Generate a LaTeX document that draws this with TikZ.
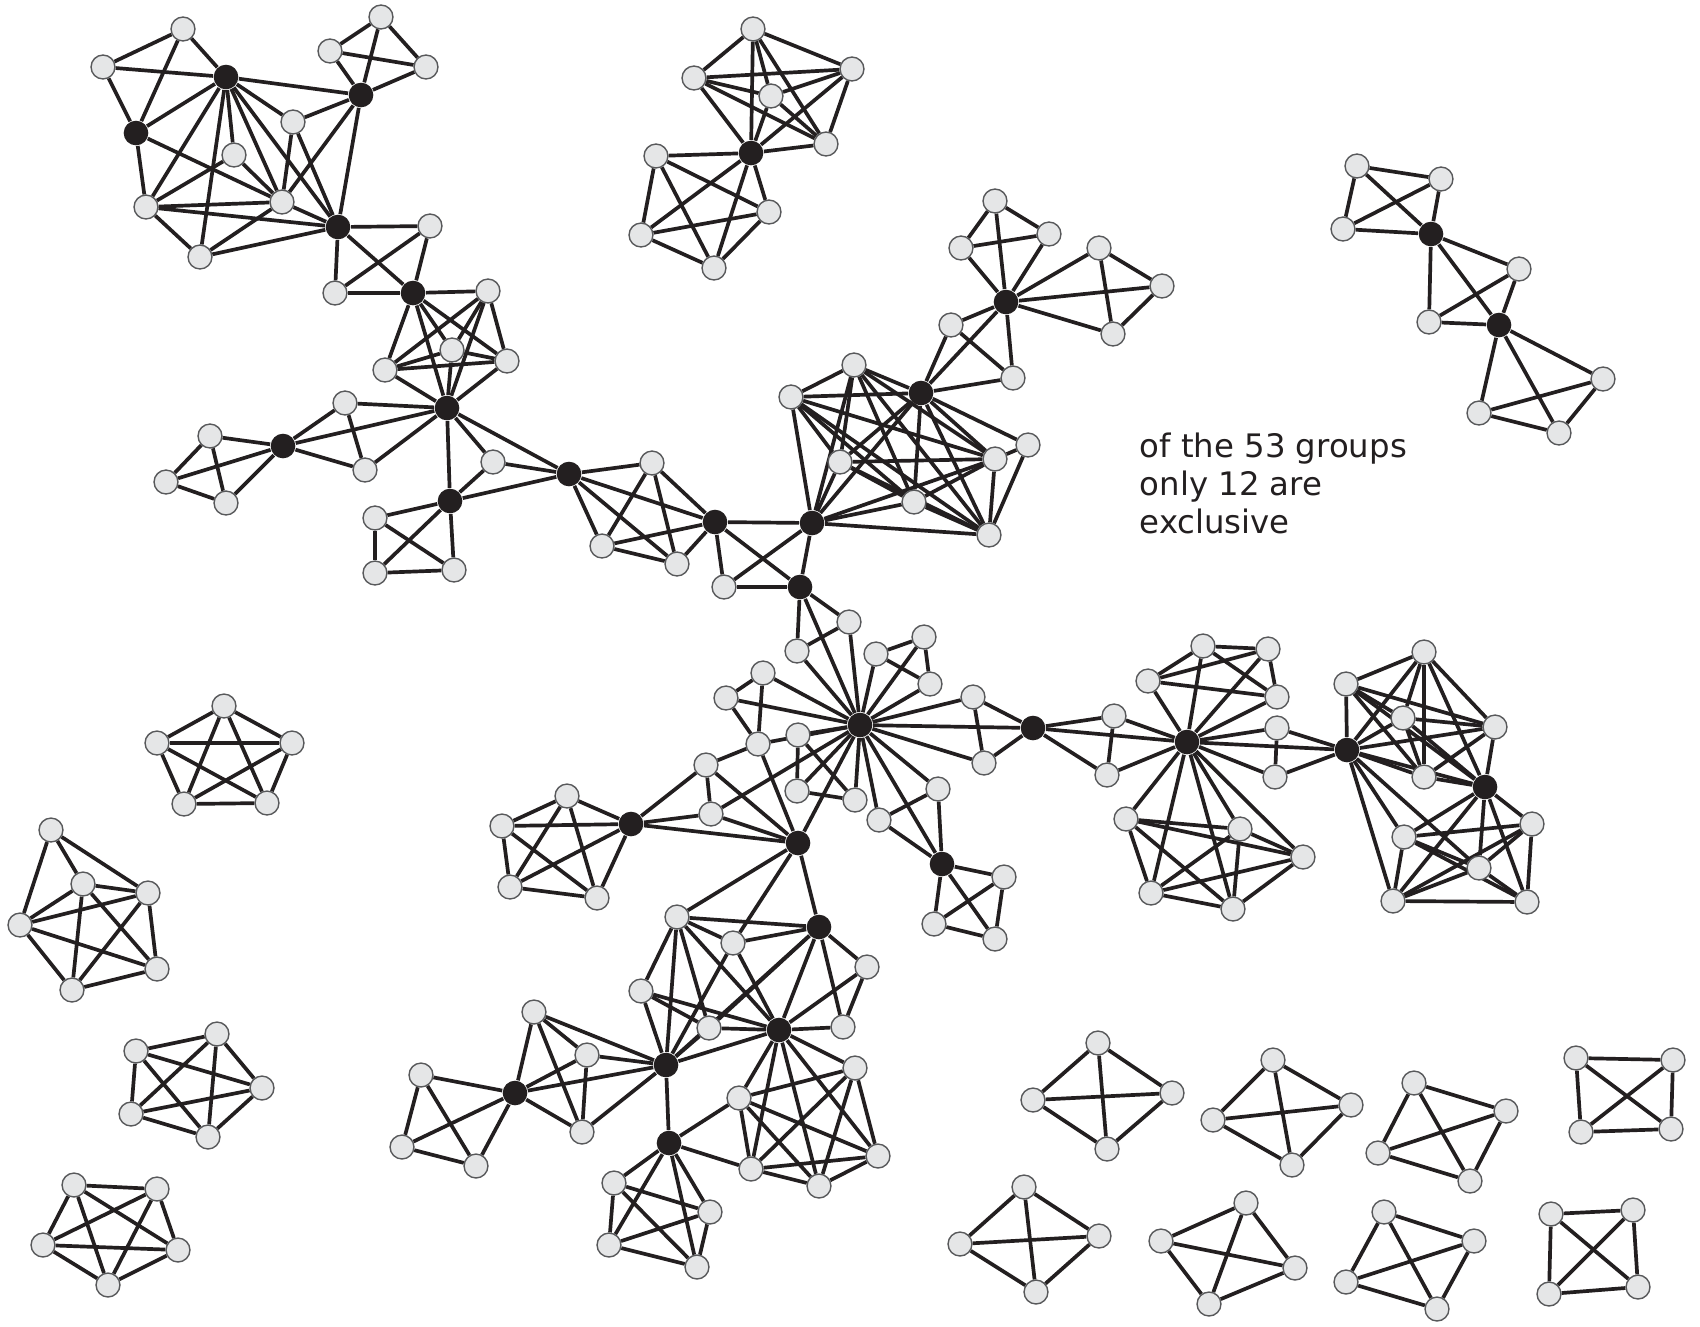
\documentclass[tikz,border=0pt]{standalone}
\usepackage{fontspec}
\newfontfamily\labelfont{DejaVu Sans}
\definecolor{ink}{HTML}{231F20}
\definecolor{nodegray}{HTML}{E5E6E7}
\definecolor{rimgray}{HTML}{58595B}
\pgfdeclarelayer{bg}
\pgfsetlayers{bg,main}
\tikzset{
  gn/.style={circle, draw=rimgray, fill=nodegray, line width=0.4pt, minimum size=6.8pt, inner sep=0pt},
  bn/.style={circle, fill=ink, minimum size=7pt, inner sep=0pt},
  edgeln/.style={draw=ink, line width=1.05pt},
  txt/.style={font=\labelfont\fontsize{9.2pt}{10.8pt}\selectfont, text=ink, inner sep=0pt}
}
\newcommand{\kclique}[1]{%
  \foreach \u [count=\i] in {#1}{%
    \foreach \v [count=\j] in {#1}{%
      \ifnum\i<\j \draw[edgeln] (\u)--(\v);\fi}}}
\newcommand{\links}[1]{\foreach \u/\v in {#1}{\draw[edgeln] (\u)--(\v);}}
\begin{document}
\begin{tikzpicture}[x=0.01cm, y=-0.01cm]
\useasboundingbox (0,0) rectangle (1700,1326);
% ---------- top-left chain ----------
\node[gn] (A1) at (103,67) {};
\node[gn] (A2) at (183,29) {};
\node[bn] (H1) at (226,77) {};
\node[bn] (H2) at (136,133) {};
\node[gn] (A3) at (293,122) {};
\node[gn] (A4) at (234,155) {};
\node[gn] (A5) at (146,207) {};
\node[gn] (A6) at (282,202) {};
\node[gn] (A7) at (200,257) {};
\node[bn] (H3) at (338,227) {};
\node[bn] (H4) at (361,95) {};
\node[gn] (B1) at (330,51) {};
\node[gn] (B2) at (381,17) {};
\node[gn] (B3) at (426,67) {};
\node[gn] (C1) at (430,226) {};
\node[gn] (C2) at (335,293) {};
\node[bn] (H5) at (413,293) {};
\node[gn] (C3) at (385,370) {};
\node[gn] (G1) at (488,291) {};
\node[gn] (G2) at (452,350) {};
\node[gn] (G3) at (507,361) {};
\node[bn] (H7) at (447,408) {};
\node[gn] (D1) at (345,403) {};
\node[bn] (H6) at (283,446) {};
\node[gn] (D2) at (210,436) {};
\node[gn] (D3) at (166,482) {};
\node[gn] (D4) at (226,503) {};
\node[gn] (D5) at (365,470) {};
\node[gn] (G4) at (493,462) {};
\node[bn] (H8) at (450,501) {};
\node[gn] (L1) at (375,518) {};
\node[gn] (L2) at (375,573) {};
\node[gn] (L3) at (454,570) {};
\node[bn] (H9) at (569,474) {};
\node[gn] (M1) at (652,463) {};
\node[gn] (M2) at (602,546) {};
\node[gn] (M3) at (677,564) {};
\node[bn] (H10) at (715,522) {};
\node[gn] (M4) at (724,587) {};
\node[bn] (H11) at (812,523) {};
\node[bn] (H12) at (800,587) {};
\node[gn] (N1) at (849,622) {};
\node[gn] (N2) at (797,651) {};
\node[bn] (H15) at (860,725) {};
% ---------- top centre ----------
\node[gn] (E1) at (753,29) {};
\node[gn] (E2) at (694,78) {};
\node[gn] (E3) at (852,69) {};
\node[gn] (E4) at (771,96) {};
\node[gn] (E5) at (826,144) {};
\node[bn] (HE) at (751,153) {};
\node[gn] (F1) at (656,156) {};
\node[gn] (F2) at (769,212) {};
\node[gn] (F3) at (641,235) {};
\node[gn] (F4) at (714,268) {};
% ---------- upper right branch ----------
\node[gn] (I1) at (995,201) {};
\node[gn] (I2) at (961,248) {};
\node[gn] (I3) at (1049,234) {};
\node[bn] (HI) at (1006,302) {};
\node[gn] (I4) at (1099,248) {};
\node[gn] (I5) at (1162,286) {};
\node[gn] (I6) at (1113,334) {};
\node[gn] (I7) at (951,325) {};
\node[gn] (I8) at (1013,378) {};
\node[bn] (HJ) at (921,393) {};
\node[gn] (T1) at (791,397) {};
\node[gn] (J1) at (854,365) {};
\node[gn] (T2) at (840,462) {};
\node[gn] (T3) at (914,502) {};
\node[gn] (J3) at (995,459) {};
\node[gn] (J2) at (1028,445) {};
\node[gn] (T4) at (989,535) {};
% ---------- far top right ----------
\node[gn] (K1) at (1357,166) {};
\node[gn] (K2) at (1441,179) {};
\node[gn] (K3) at (1343,229) {};
\node[bn] (HK1) at (1431,234) {};
\node[gn] (K4) at (1519,269) {};
\node[gn] (K5) at (1429,322) {};
\node[bn] (HK2) at (1499,325) {};
\node[gn] (K6) at (1603,379) {};
\node[gn] (K7) at (1479,413) {};
\node[gn] (K8) at (1559,433) {};
% ---------- middle right ----------
\node[gn] (W1) at (876,654) {};
\node[gn] (W2) at (924,637) {};
\node[gn] (W3) at (930,684) {};
\node[gn] (X1) at (973,697) {};
\node[gn] (X2) at (984,763) {};
\node[bn] (H16) at (1033,728) {};
\node[gn] (Y1) at (1114,716) {};
\node[gn] (Y2) at (1107,775) {};
\node[bn] (H17) at (1187,742) {};
\node[gn] (AA1) at (1203,646) {};
\node[gn] (AA2) at (1268,649) {};
\node[gn] (AA3) at (1148,681) {};
\node[gn] (AA4) at (1277,697) {};
\node[gn] (BB1) at (1277,728) {};
\node[gn] (BB2) at (1275,777) {};
\node[bn] (H19) at (1347,750) {};
\node[gn] (DD1) at (1346,684) {};
\node[gn] (DD2) at (1424,652) {};
\node[gn] (DD3) at (1403,718) {};
\node[gn] (DD4) at (1495,727) {};
\node[gn] (DD5) at (1424,777) {};
\node[bn] (H20) at (1485,787) {};
\node[gn] (EE1) at (1404,837) {};
\node[gn] (EE2) at (1532,824) {};
\node[gn] (EE3) at (1479,868) {};
\node[gn] (EE4) at (1393,901) {};
\node[gn] (EE5) at (1527,902) {};
\node[gn] (CC1) at (1126,819) {};
\node[gn] (CC2) at (1240,829) {};
\node[gn] (CC5) at (1303,857) {};
\node[gn] (CC3) at (1151,893) {};
\node[gn] (CC4) at (1233,909) {};
% ---------- centre ----------
\node[gn] (O1) at (763,673) {};
\node[gn] (O2) at (726,698) {};
\node[gn] (O3) at (758,744) {};
\node[gn] (O4) at (798,735) {};
\node[gn] (O5) at (797,791) {};
\node[gn] (O6) at (855,800) {};
\node[gn] (R1) at (706,765) {};
\node[gn] (R2) at (711,814) {};
\node[bn] (H13) at (631,824) {};
\node[bn] (H14) at (798,843) {};
\node[gn] (S1) at (567,796) {};
\node[gn] (S2) at (502,826) {};
\node[gn] (S3) at (510,887) {};
\node[gn] (S4) at (597,898) {};
\node[gn] (Z2) at (879,820) {};
\node[gn] (Z3) at (938,789) {};
\node[bn] (H18) at (942,864) {};
\node[gn] (Z4) at (1004,877) {};
\node[gn] (FF1) at (934,924) {};
\node[gn] (FF2) at (995,939) {};
% ---------- lower centre ----------
\node[gn] (U1) at (677,917) {};
\node[bn] (H21) at (819,927) {};
\node[gn] (U2) at (733,943) {};
\node[gn] (U3) at (867,967) {};
\node[gn] (U4) at (641,991) {};
\node[gn] (U5) at (709,1028) {};
\node[bn] (H22) at (779,1030) {};
\node[gn] (U6) at (843,1027) {};
\node[gn] (V1) at (534,1012) {};
\node[gn] (V2) at (587,1055) {};
\node[bn] (H23) at (666,1065) {};
\node[gn] (V3) at (421,1075) {};
\node[bn] (H24) at (515,1093) {};
\node[gn] (V4) at (402,1147) {};
\node[gn] (V5) at (476,1166) {};
\node[gn] (V6) at (582,1132) {};
\node[gn] (W1b) at (739,1098) {};
\node[gn] (W2b) at (855,1068) {};
\node[gn] (W3b) at (878,1156) {};
\node[gn] (W4b) at (751,1169) {};
\node[gn] (W5b) at (819,1186) {};
\node[bn] (H25) at (669,1143) {};
\node[gn] (X1b) at (614,1183) {};
\node[gn] (X2b) at (710,1212) {};
\node[gn] (X3b) at (609,1245) {};
\node[gn] (X4b) at (697,1267) {};
% ---------- separate groups, left ----------
\node[gn] (P1) at (224,706) {};
\node[gn] (P2) at (157,743) {};
\node[gn] (P3) at (292,743) {};
\node[gn] (P4) at (184,804) {};
\node[gn] (P5) at (267,803) {};
\node[gn] (Ra) at (51,830) {};
\node[gn] (Rb) at (83,884) {};
\node[gn] (Rc) at (148,893) {};
\node[gn] (Rd) at (20,925) {};
\node[gn] (Re) at (157,969) {};
\node[gn] (Rf) at (72,990) {};
\node[gn] (Sa) at (136,1051) {};
\node[gn] (Sb) at (217,1034) {};
\node[gn] (Sc) at (262,1088) {};
\node[gn] (Sd) at (131,1114) {};
\node[gn] (Se) at (208,1137) {};
\node[gn] (Ta) at (74,1185) {};
\node[gn] (Tb) at (157,1189) {};
\node[gn] (Tc) at (43,1245) {};
\node[gn] (Td) at (178,1250) {};
\node[gn] (Te) at (108,1285) {};
% ---------- separate groups, bottom right ----------
\node[gn] (Q1a) at (1098,1043) {};
\node[gn] (Q1b) at (1033,1100) {};
\node[gn] (Q1c) at (1172,1093) {};
\node[gn] (Q1d) at (1107,1149) {};
\node[gn] (Q2a) at (1273,1060) {};
\node[gn] (Q2b) at (1213,1120) {};
\node[gn] (Q2c) at (1351,1105) {};
\node[gn] (Q2d) at (1292,1165) {};
\node[gn] (Q3a) at (1024,1187) {};
\node[gn] (Q3b) at (960,1244) {};
\node[gn] (Q3c) at (1099,1236) {};
\node[gn] (Q3d) at (1036,1292) {};
\node[gn] (Q4a) at (1246,1203) {};
\node[gn] (Q4b) at (1161,1241) {};
\node[gn] (Q4c) at (1295,1268) {};
\node[gn] (Q4d) at (1209,1304) {};
\node[gn] (Q5a) at (1414,1083) {};
\node[gn] (Q5b) at (1378,1153) {};
\node[gn] (Q5c) at (1506,1111) {};
\node[gn] (Q5d) at (1470,1181) {};
\node[gn] (Q6a) at (1576,1058) {};
\node[gn] (Q6b) at (1673,1060) {};
\node[gn] (Q6c) at (1581,1132) {};
\node[gn] (Q6d) at (1671,1129) {};
\node[gn] (Q7a) at (1384,1212) {};
\node[gn] (Q7b) at (1346,1282) {};
\node[gn] (Q7c) at (1474,1241) {};
\node[gn] (Q7d) at (1437,1309) {};
\node[gn] (Q8a) at (1551,1214) {};
\node[gn] (Q8b) at (1633,1210) {};
\node[gn] (Q8c) at (1549,1294) {};
\node[gn] (Q8d) at (1638,1287) {};
% ---------- text ----------
\node[txt, anchor=base west] (t1) at (1139,457) {of the 53 groups};
\node[txt, anchor=base west] (t2) at (1139,495) {only 12 are};
\node[txt, anchor=base west] (t3) at (1139,533) {exclusive};
% ---------- edges ----------
\begin{pgfonlayer}{bg}
\fill[white] (0,0) rectangle (1700,1326);
\kclique{A1,A2,H1,H2}
\links{H1/H4, H1/A3, H1/A4, H1/A5, H1/A6, H1/A7, H1/H3, H2/A5, H2/A6,
  A5/A4, A5/A6, A5/H3, A5/A7, A4/A6, A7/A6, A7/H3, A6/H3, A6/H4, A6/A3,
  A3/H4, A3/H3, H4/H3}
\kclique{H4,B1,B2,B3}
\kclique{H3,C1,C2,H5}
\kclique{H5,C3,G1,G2,G3,H7}
\kclique{H6,D1,D5,H7}
\kclique{H6,D2,D3,D4}
\kclique{H7,G4,H8,H9}
\kclique{H8,L1,L2,L3}
\kclique{H9,M1,M2,M3,H10}
\kclique{H10,M4,H11,H12}
\kclique{H12,N1,N2,H15}
\kclique{T1,J1,HJ,T2,T3,J3,T4,H11}
\links{J2/HJ, J2/J3, J2/T4}
\kclique{HJ,I7,I8,HI}
\kclique{HI,I1,I2,I3}
\kclique{HI,I4,I5,I6}
\kclique{E1,E2,E3,E4,E5,HE}
\kclique{HE,F1,F2,F3,F4}
\kclique{HK1,K1,K2,K3}
\kclique{HK1,K4,K5,HK2}
\kclique{HK2,K6,K7,K8}
\kclique{H15,W1,W2,W3}
\kclique{H15,X1,X2,H16}
\kclique{H15,Z2,Z3,H18}
\kclique{H15,O1,O2,O3}
\kclique{H15,O4,O5,O6}
\kclique{H18,Z4,FF1,FF2}
\kclique{H16,Y1,Y2,H17}
\kclique{H17,AA1,AA2,AA3,AA4}
\kclique{H17,BB1,BB2,H19}
\kclique{H17,CC1,CC2,CC3,CC4,CC5}
\kclique{H19,DD1,DD2,DD3,DD4,DD5,H20}
\kclique{H20,EE1,EE2,EE3,EE4,EE5}
\links{H19/EE1, H19/EE3, H19/EE4}
\kclique{H13,R1,R2,H14}
\links{R1/O3, R2/H15, H14/H15, O3/H14}
\kclique{H13,S1,S2,S3,S4}
\kclique{H14,U1,U2,H21}
\kclique{H21,U3,U6,H22}
\kclique{U1,U4,U5,H23,H22}
\links{U2/H22, U2/H23, H21/U5, H21/H23}
\kclique{H22,W1b,W2b,W3b,W4b,W5b}
\kclique{H23,H24,V1,V2,V6}
\kclique{H24,V3,V4,V5}
\kclique{H25,X1b,X2b,X3b,X4b}
\links{H25/H23, H25/W1b, H25/W4b}
% separate groups
\kclique{P1,P2,P3,P4,P5}
\kclique{Rb,Rc,Rd,Re,Rf}
\links{Ra/Rb, Ra/Rc, Ra/Rd}
\kclique{Sa,Sb,Sc,Sd,Se}
\kclique{Ta,Tb,Tc,Td,Te}
\kclique{Q1a,Q1b,Q1c,Q1d}
\kclique{Q2a,Q2b,Q2c,Q2d}
\kclique{Q3a,Q3b,Q3c,Q3d}
\kclique{Q4a,Q4b,Q4c,Q4d}
\kclique{Q5a,Q5b,Q5c,Q5d}
\kclique{Q6a,Q6b,Q6c,Q6d}
\kclique{Q7a,Q7b,Q7c,Q7d}
\kclique{Q8a,Q8b,Q8c,Q8d}
\end{pgfonlayer}
\end{tikzpicture}
\end{document}
